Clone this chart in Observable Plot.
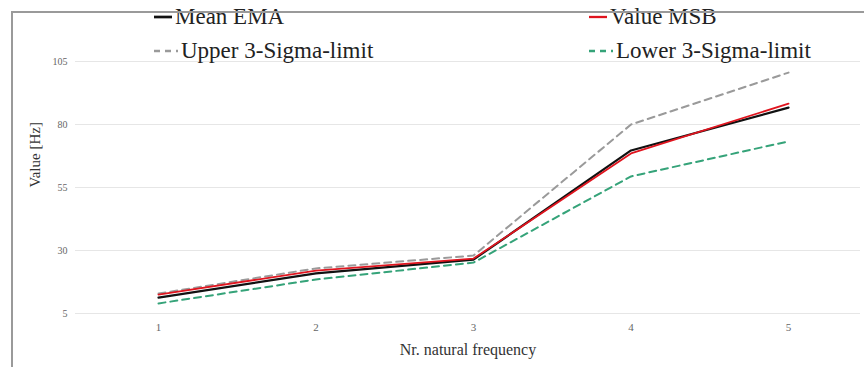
<!DOCTYPE html>
<html>
<head>
<meta charset="utf-8">
<script src="https://cdn.jsdelivr.net/npm/d3@7"></script>
<script src="https://cdn.jsdelivr.net/npm/@observablehq/plot@0.6"></script>
<style>
  html, body { margin: 0; padding: 0; background: #fff; }
  #wrap { position: relative; width: 864px; height: 367px; overflow: hidden; font-family: "Liberation Serif", "DejaVu Serif", serif; }
  #frame { position: absolute; left: 11px; top: 11px; right: -10px; bottom: -10px; border-left: 2px solid #9a9a9a; border-top: 2px solid #9a9a9a; pointer-events: none; }
  #legend { position: absolute; left: 0; top: 0; width: 864px; height: 70px; font-size: 23px; color: #222; }
  .item { position: absolute; display: flex; align-items: center; white-space: nowrap; }
  .item svg { margin-right: 2px; }
</style>
</head>
<body>
<div id="wrap">
  <div id="chart"></div>
  <div id="legend"></div>
  <div id="frame"></div>
</div>
<script>
const frequencies = [1, 2, 3, 4, 5];
const meanEMA = [11.3, 20.9, 26.4, 69.7, 86.7];
const valueMSB = [12.5, 22.0, 26.8, 68.5, 88.3];
const upperLimit = [12.9, 22.9, 28.0, 80.0, 100.6];
const lowerLimit = [9.0, 18.5, 25.2, 59.4, 73.3];
const yTicks = [5, 30, 55, 80, 105];
const seriesNames = ["Mean EMA", "Value MSB", "Upper 3-Sigma-limit", "Lower 3-Sigma-limit"];

const seriesStyle = [
  {stroke: "#111111", width: 2.2, dash: null},
  {stroke: "#e0141e", width: 1.8, dash: null},
  {stroke: "#9a9a9a", width: 2, dash: "7,5"},
  {stroke: "#35a379", width: 2, dash: "7,5"}
];
const seriesValues = [meanEMA, valueMSB, upperLimit, lowerLimit];

const rows = [];
seriesNames.forEach((name, s) => {
  frequencies.forEach((f, i) => rows.push({series: name, s, x: f, y: seriesValues[s][i]}));
});

const lineMarks = seriesNames.map((name, s) =>
  Plot.line(rows.filter(d => d.s === s), {
    x: "x", y: "y",
    stroke: seriesStyle[s].stroke,
    strokeWidth: seriesStyle[s].width,
    strokeDasharray: seriesStyle[s].dash,
    strokeLinejoin: "round"
  })
);
const ordered = [lineMarks[2], lineMarks[3], lineMarks[0], lineMarks[1]];

const chart = Plot.plot({
  width: 864,
  height: 367,
  marginLeft: 75,
  marginRight: 4,
  marginTop: 61,
  marginBottom: 54,
  style: {fontFamily: "Liberation Serif, serif", background: "transparent"},
  x: {domain: [0.473, 5.457]},
  y: {domain: [5, 105]},
  marks: [
    Plot.gridY(yTicks, {stroke: "#e6e6e6", strokeOpacity: 1, strokeWidth: 1}),
    Plot.axisY(yTicks, {tickSize: 0, tickPadding: 8, label: null, fontSize: 10, fill: "#666"}),
    Plot.axisX(frequencies, {tickSize: 0, tickPadding: 10, label: null, fontSize: 11, fill: "#666", tickFormat: d3.format("d")}),
    ...ordered,
    Plot.text(["Value [Hz]"], {frameAnchor: "left", dx: -40, rotate: -90, fontSize: 15, fill: "#333"}),
    Plot.text(["Nr. natural frequency"], {frameAnchor: "bottom", dy: 41, fontSize: 16, fill: "#333"})
  ]
});
document.getElementById("chart").appendChild(chart);

const legendPos = [
  {left: 153, top: 4},
  {left: 588, top: 4},
  {left: 153, top: 38},
  {left: 588, top: 38}
];
const legend = document.getElementById("legend");
seriesNames.forEach((name, s) => {
  const st = seriesStyle[s];
  const div = document.createElement("div");
  div.className = "item";
  div.style.left = legendPos[s].left + "px";
  div.style.top = legendPos[s].top + "px";
  const sw = st.dash ? 26 : 20;
  div.innerHTML = `<svg width="${sw}" height="12"><line x1="1" y1="6" x2="${sw - 1}" y2="6" stroke="${st.stroke}" stroke-width="${st.width + 0.5}" ${st.dash ? 'stroke-dasharray="6,5"' : ''}/></svg><span>${name}</span>`;
  legend.appendChild(div);
});
</script>
</body>
</html>
